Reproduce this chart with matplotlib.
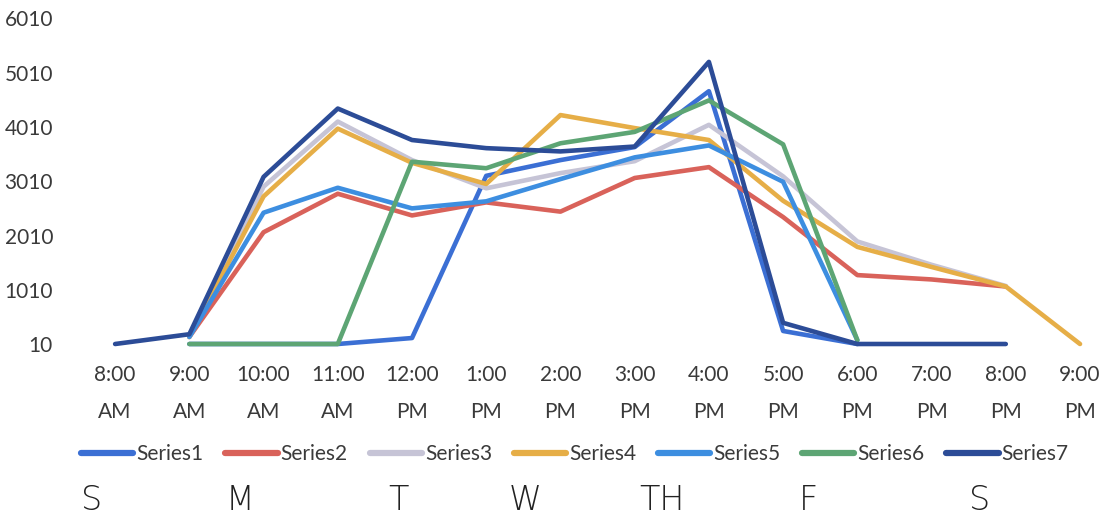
import numpy as np
import matplotlib
matplotlib.use("Agg")
import matplotlib.pyplot as plt
from matplotlib.lines import Line2D

plt.rcParams['font.family'] = ['Lato', 'DejaVu Sans']

nan = np.nan

hours = ["8:00\nAM", "9:00\nAM", "10:00\nAM", "11:00\nAM", "12:00\nPM", "1:00\nPM", "2:00\nPM",
         "3:00\nPM", "4:00\nPM", "5:00\nPM", "6:00\nPM", "7:00\nPM", "8:00\nPM", "9:00\nPM"]

series1 = [nan, 10, 10, 10, 120, 3110, 3400, 3640, 4670, 250, 10, nan, nan, nan]
series2 = [nan, 140, 2070, 2780, 2380, 2620, 2450, 3070, 3270, 2350, 1280, 1200, 1070, nan]
series3 = [nan, 140, 2910, 4110, 3400, 2880, 3160, 3380, 4050, 3100, 1900, 1470, 1080, nan]
series4 = [nan, 140, 2730, 3980, 3350, 2960, 4230, 3990, 3770, 2650, 1800, 1430, 1070, 10]
series5 = [nan, 140, 2430, 2890, 2510, 2640, 3050, 3450, 3670, 3000, 80, nan, nan, nan]
series6 = [nan, 10, 10, 10, 3370, 3250, 3710, 3920, 4500, 3690, 80, nan, nan, nan]
series7 = [10, 190, 3090, 4350, 3770, 3620, 3560, 3650, 5210, 400, 10, 10, 10, nan]

names = ["Series1", "Series2", "Series3", "Series4", "Series5", "Series6", "Series7"]
colors = ["#3B6FD4", "#D9625A", "#C6C4D6", "#E6AE47", "#3D8EE0", "#5DA574", "#2C4C97"]
yticks = [10, 1010, 2010, 3010, 4010, 5010, 6010]

day_letters = ["S", "M", "T", "W", "TH", "F", "S"]
day_x = [92, 240, 398, 525, 662, 808, 980]

W, H = 1106, 532
fig = plt.figure(figsize=(W / 100, H / 100), dpi=100)
ax = fig.add_axes([78 / W, (H - 344) / H, (W - 78) / W, 325.5 / H])

x = np.arange(len(hours))
all_series = [series1, series2, series3, series4, series5, series6, series7]
for vals, name, col in zip(all_series, names, colors):
    ax.plot(x, vals, color=col, lw=3.3, label=name, solid_joinstyle='round',
            solid_capstyle='round', clip_on=False)

ax.set_xlim(-0.5, 13.35)
ax.set_ylim(10, 6010)
ax.set_yticks(yticks)
ax.set_yticklabels([str(v) for v in yticks])
ax.set_xticks(x)
ax.set_xticklabels(hours, linespacing=2.05)
ax.tick_params(axis='both', length=0, labelsize=15, colors='#3a3a3a')
ax.tick_params(axis='y', pad=18)
ax.tick_params(axis='x', pad=15)
for s in ax.spines.values():
    s.set_visible(False)

handles = [Line2D([0], [0], color=c, lw=4.5, solid_capstyle='round') for c in colors]
fig.legend(handles, names, loc='center', bbox_to_anchor=(575 / W, 1 - 454 / H), ncol=7,
           frameon=False, fontsize=15, handlelength=2.5, handletextpad=0.15,
           columnspacing=1.05, labelcolor='#3a3a3a')

for lt, lx in zip(day_letters, day_x):
    fig.text(lx / W, 1 - 500 / H, lt, fontsize=24, ha='center', va='center',
             color='#222222', family=['DejaVu Sans'], fontweight='light')

fig.savefig("out.png", dpi=100, facecolor='white')
